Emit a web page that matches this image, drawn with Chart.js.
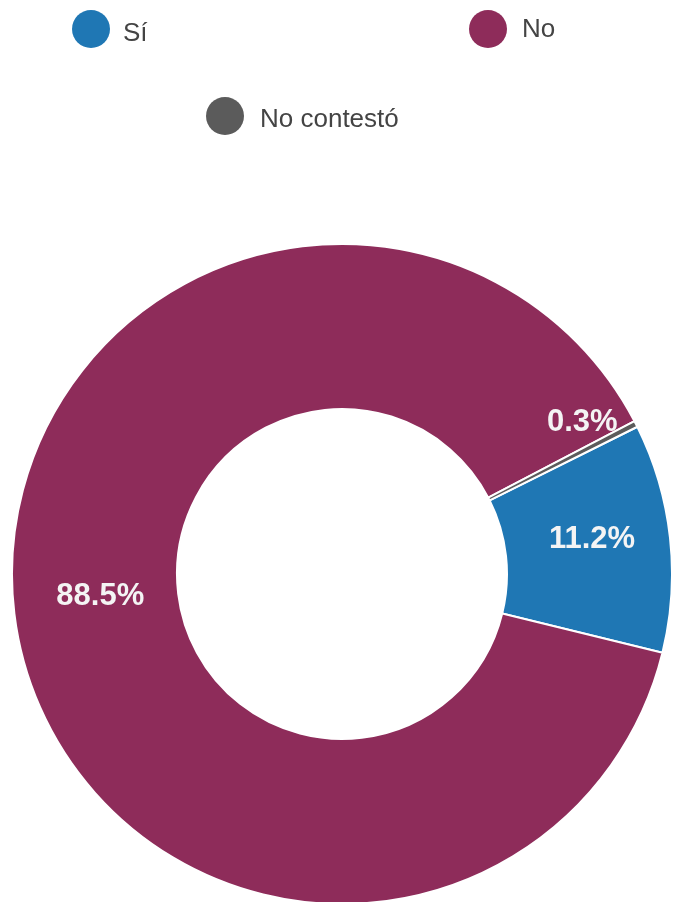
<!DOCTYPE html>
<html>
<head>
<meta charset="utf-8">
<script src="https://cdn.jsdelivr.net/npm/chart.js@4.4.1/dist/chart.umd.min.js"></script>
<style>
  html, body { margin: 0; padding: 0; background: #fff; overflow: hidden; }
  #wrap { position: relative; width: 673px; height: 906px; }
</style>
</head>
<body>
<div id="wrap"><canvas id="chart" width="673" height="906"></canvas></div>
<script>
const labels = ['Sí', 'No', 'No contestó'];
const values = [11.2, 88.5, 0.3];
const colors = ['#1f77b4', '#8e2c5a', '#5b5b5b'];

// where each legend entry sits (circle centre, text start / baseline)
const legendLayout = [
    { cx: 91, cy: 29, tx: 123, ty: 41 },
    { cx: 488, cy: 29, tx: 522, ty: 37 },
    { cx: 225, cy: 116, tx: 260, ty: 127 }
];

const sliceLabels = {
    id: 'sliceLabels',
    afterDatasetsDraw(chart) {
        const ctx = chart.ctx;
        const meta = chart.getDatasetMeta(0);
        ctx.save();
        ctx.font = 'bold 31px "Liberation Sans", Arial, sans-serif';
        ctx.fillStyle = '#f4f4f4';
        ctx.textAlign = 'center';
        ctx.textBaseline = 'middle';
        meta.data.forEach((arc, i) => {
            const p = arc.getProps(['x', 'y', 'startAngle', 'endAngle', 'innerRadius', 'outerRadius'], true);
            let mid = (p.startAngle + p.endAngle) / 2;
            let r = (p.innerRadius + p.outerRadius) / 2;
            // tiny slice: push the label out beside it
            if (values[i] < 2) {
                mid -= 4.5 * Math.PI / 180;
                r = p.outerRadius * 0.84;
            }
            ctx.fillText(values[i].toFixed(1) + '%', p.x + Math.cos(mid) * r + 4, p.y + Math.sin(mid) * r - 7);
        });
        ctx.restore();
    }
};

const dotLegend = {
    id: 'dotLegend',
    afterDraw(chart) {
        const ctx = chart.ctx;
        ctx.save();
        ctx.font = '26px "Liberation Sans", Arial, sans-serif';
        ctx.textBaseline = 'alphabetic';
        labels.forEach((label, i) => {
            const l = legendLayout[i];
            ctx.beginPath();
            ctx.arc(l.cx, l.cy, 19, 0, Math.PI * 2);
            ctx.fillStyle = colors[i];
            ctx.fill();
            ctx.fillStyle = '#444444';
            ctx.fillText(label, l.tx, l.ty);
        });
        ctx.restore();
    }
};

new Chart(document.getElementById('chart'), {
    type: 'doughnut',
    data: {
        labels: labels,
        datasets: [{
            data: values,
            backgroundColor: colors,
            borderColor: '#ffffff',
            borderWidth: 2
        }]
    },
    options: {
        responsive: false,
        animation: false,
        devicePixelRatio: 1,
        cutout: '50%',
        rotation: 63.5,
        layout: { padding: { left: 11, right: 0, top: 242, bottom: 0 } },
        plugins: {
            legend: { display: false },
            tooltip: { enabled: false }
        }
    },
    plugins: [sliceLabels, dotLegend]
});
</script>
</body>
</html>
